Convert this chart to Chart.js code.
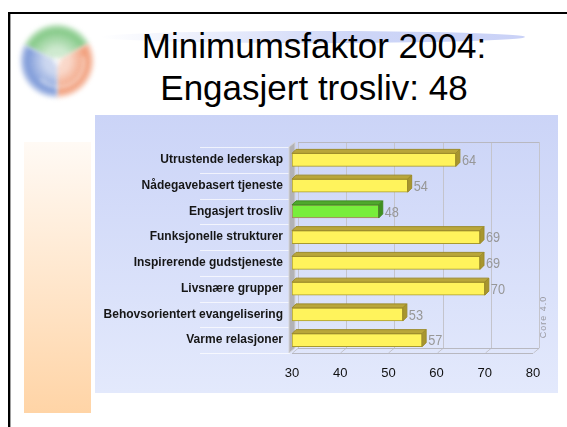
<!DOCTYPE html>
<html>
<head>
<meta charset="utf-8">
<script src="https://cdn.jsdelivr.net/npm/chart.js@4"></script>
<style>
  body { margin: 0; width: 567px; height: 427px; background: #fff; position: relative; overflow: hidden; }
  .abs { position: absolute; }
  #frame { left: 8px; top: 12px; width: 600px; height: 500px; border-left: 2px solid #000; border-top: 2px solid #000; }
  #frameShade { left: 10px; top: 14px; width: 1px; height: 420px; background: #a0a0a0; }
  #strip { left: 24px; top: 142px; width: 67px; height: 271px; background: linear-gradient(#fffaf5, #ffd4a6); }
  #panel { left: 95px; top: 115px; width: 463px; height: 278px; background: linear-gradient(#cbd4f7, #e3e9fc); }
  #glow { left: 100px; top: 31px; width: 425px; height: 12px; border-radius: 50%;
          background: linear-gradient(90deg, rgba(205,213,246,0), rgba(200,209,246,0.9) 60%, rgba(196,205,246,0.9)); }
  .title { left: 114px; width: 400px; text-align: center; font: 35px "Liberation Sans", Arial, sans-serif;
           line-height: 40px; color: #000; white-space: nowrap; }
  #chart { left: 0; top: 0; }
</style>
</head>
<body>
<div id="frame" class="abs"></div>
<div id="frameShade" class="abs"></div>
<div id="strip" class="abs"></div>
<div id="panel" class="abs"></div>
<div id="glow" class="abs"></div>
<div class="abs title" style="top:26px">Minimumsfaktor 2004:</div>
<div class="abs title" style="top:68px">Engasjert trosliv: 48</div>
<canvas id="chart" class="abs" width="567" height="427"></canvas>
<script>
const categories = [
    'Utrustende lederskap',
    'Nådegavebasert tjeneste',
    'Engasjert trosliv',
    'Funksjonelle strukturer',
    'Inspirerende gudstjeneste',
    'Livsnære grupper',
    'Behovsorientert evangelisering',
    'Varme relasjoner'
];
const scores = [64, 54, 48, 69, 69, 70, 53, 57];
const xTicks = [30, 40, 50, 60, 70, 80];
const minimumFactor = 'Engasjert trosliv';

const SANS = '"Liberation Sans", Arial, sans-serif';
const DX = 6, DY = 5;   // depth of the back wall
const BX = 4, BY = 4;   // depth of each bar

const isMin = i => categories[i] === minimumFactor;

// logo, back wall, floor, side wall
const backdrop = {
    id: 'backdrop',
    beforeDraw(chart) {
        const c = chart.ctx;
        const cx = 57, cy = 61;
        const sectors = [
            [-154, -29, '125,198,128'],
            [-29, 90, '240,150,112'],
            [90, 206, '118,148,214']
        ];
        c.save();
        c.filter = 'blur(2px)';
        sectors.forEach(([a0, a1, rgb]) => {
            const g = c.createRadialGradient(cx, cy, 0, cx, cy, 38);
            g.addColorStop(0, 'rgba(255,255,255,1)');
            g.addColorStop(0.3, 'rgba(' + rgb + ',0.35)');
            g.addColorStop(0.8, 'rgba(' + rgb + ',0.95)');
            g.addColorStop(1, 'rgba(' + rgb + ',0.2)');
            c.fillStyle = g;
            c.beginPath();
            c.moveTo(cx, cy);
            c.arc(cx, cy, 37, a0 * Math.PI / 180, a1 * Math.PI / 180);
            c.closePath();
            c.fill();
        });
        c.strokeStyle = 'rgba(255,255,255,0.45)';
        c.lineWidth = 3;
        c.beginPath();
        c.arc(cx + 2, cy + 1, 25, -0.2, 2.4);
        c.stroke();
        c.restore();
    },
    beforeDatasetsDraw(chart) {
        const c = chart.ctx;
        const { left: L, right: R, top: T, bottom: B } = chart.chartArea;
        const x = chart.scales.x;
        const rowH = (B - T) / categories.length;
        c.save();
        // light lines in the label area
        c.strokeStyle = 'rgba(255,255,255,0.7)';
        c.lineWidth = 1;
        for (let i = 0; i <= categories.length; i++) {
            const y = Math.round(T + i * rowH) + 0.5;
            c.beginPath(); c.moveTo(200, y); c.lineTo(L - 2, y); c.stroke();
        }
        // back wall grid
        c.strokeStyle = '#c4c4cc';
        xTicks.forEach(v => {
            const px = Math.round(x.getPixelForValue(v)) + 0.5;
            c.beginPath();
            c.moveTo(px + DX, T - DY); c.lineTo(px + DX, B - DY);
            c.moveTo(px, B); c.lineTo(px + DX, B - DY);
            c.stroke();
        });
        c.strokeStyle = '#b8b8c0';
        c.beginPath();
        c.moveTo(L + DX, T - DY + 0.5); c.lineTo(R + DX, T - DY + 0.5);
        c.moveTo(L + DX, B - DY + 0.5); c.lineTo(R + DX, B - DY + 0.5);
        c.moveTo(L, B + 0.5); c.lineTo(R, B + 0.5);
        c.stroke();
        // side wall
        c.fillStyle = '#b2b2b6';
        c.strokeStyle = '#d4d4d8';
        c.beginPath();
        c.moveTo(L - 3, T); c.lineTo(L - 3 + DX, T - DY); c.lineTo(L - 3 + DX, B - DY); c.lineTo(L - 3, B);
        c.closePath();
        c.fill(); c.stroke();
        // "Core 4.0"
        c.fillStyle = '#9a9aa2';
        c.font = '9px ' + SANS;
        c.letterSpacing = '1px';
        c.textAlign = 'center';
        c.textBaseline = 'middle';
        c.translate(R + 11, 317);
        c.rotate(-Math.PI / 2);
        c.fillText('Core 4.0', 0, 0);
        c.restore();
    },
    afterDatasetsDraw(chart) {
        const c = chart.ctx;
        const meta = chart.getDatasetMeta(0);
        c.save();
        meta.data.forEach((bar, i) => {
            const h = bar.height;
            const top = bar.y - h / 2, bottom = bar.y + h / 2;
            const min = isMin(i);
            // top face
            c.fillStyle = min ? '#4fa82c' : '#b9a63a';
            c.strokeStyle = min ? '#3f8a22' : '#9c8b2a';
            c.lineWidth = 1;
            c.beginPath();
            c.moveTo(bar.base, top); c.lineTo(bar.base + BX, top - BY);
            c.lineTo(bar.x + BX, top - BY); c.lineTo(bar.x, top);
            c.closePath(); c.fill(); c.stroke();
            // end face
            c.fillStyle = min ? '#3e9020' : '#a8962e';
            c.beginPath();
            c.moveTo(bar.x, top); c.lineTo(bar.x + BX, top - BY);
            c.lineTo(bar.x + BX, bottom - BY); c.lineTo(bar.x, bottom);
            c.closePath(); c.fill(); c.stroke();
            // value, slightly condensed
            c.save();
            c.fillStyle = '#979797';
            c.font = '15px ' + SANS;
            c.textAlign = 'left';
            c.textBaseline = 'middle';
            c.translate(bar.x + BX + 2, bar.y + 1);
            c.scale(0.85, 1);
            c.fillText(scores[i], 0, 0);
            c.restore();
        });
        c.restore();
    }
};

new Chart(document.getElementById('chart'), {
    type: 'bar',
    data: {
        labels: categories,
        datasets: [{
            data: scores,
            base: xTicks[0],
            barThickness: 13,
            backgroundColor: ctx => isMin(ctx.dataIndex) ? '#78ee3c' : '#fff35c',
            borderColor: ctx => isMin(ctx.dataIndex) ? '#b07a6a' : '#a89a2e',
            borderWidth: 1,
            borderSkipped: false
        }]
    },
    options: {
        indexAxis: 'y',
        responsive: false,
        animation: false,
        layout: { padding: { left: 0, right: 34, top: 147, bottom: 34 } },
        plugins: { legend: { display: false }, tooltip: { enabled: false } },
        scales: {
            x: {
                min: xTicks[0],
                max: xTicks[xTicks.length - 1],
                afterBuildTicks: axis => { axis.ticks = xTicks.map(v => ({ value: v })); },
                afterFit: axis => { axis.height = 40; },
                grid: { display: false, drawTicks: false },
                border: { display: false },
                ticks: { padding: 13, color: '#111', font: { family: SANS, size: 13 } }
            },
            y: {
                afterFit: axis => { axis.width = 292; },
                grid: { display: false, drawTicks: false },
                border: { display: false },
                ticks: { padding: 9, color: '#161616', font: { family: SANS, size: 12, weight: 'bold' } }
            }
        }
    },
    plugins: [backdrop]
});
</script>
</body>
</html>
